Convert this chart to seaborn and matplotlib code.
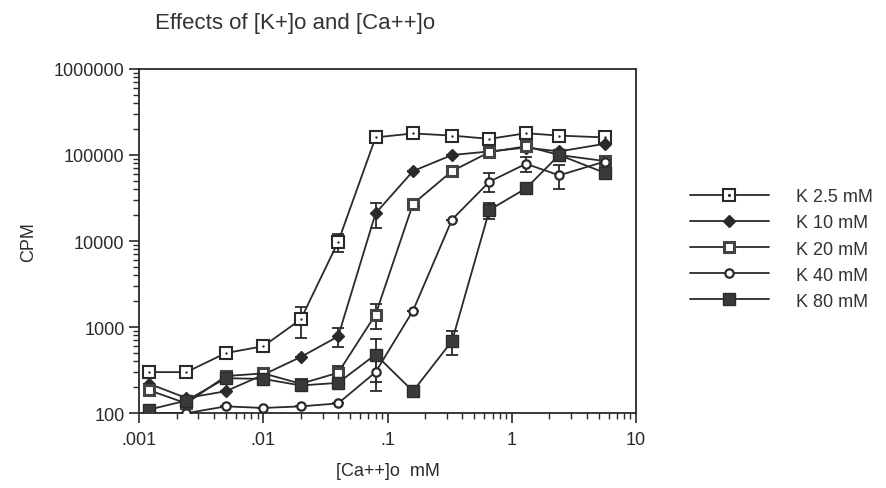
import numpy as np
import pandas as pd
import seaborn as sns
import matplotlib.pyplot as plt
from matplotlib.ticker import FixedLocator, FixedFormatter, LogLocator, NullFormatter
from matplotlib.legend_handler import HandlerTuple

# concentrações de Ca++ (mM)
ca = [0.0012, 0.0024, 0.005, 0.01, 0.02, 0.04, 0.08, 0.16, 0.33, 0.66, 1.3, 2.4, 5.6]

k2_5 = [300, 300, 500, 600, 1230, 9800, 160000, 178000, 168000, 154000, 179000, 168000, 160000]
k10 = [220, 150, 180, 280, 450, 780, 21000, 65000, 100000, 110000, 122000, 110000, 135000]
k20 = [185, 130, 270, 290, 220, 295, 1400, 27000, 65000, 108000, 126000, 100000, 85000]
k40 = [100, 100, 120, 115, 120, 130, 300, 1550, 17800, 49000, 79000, 58000, 84000]
k80 = [110, 140, 255, 250, 210, 225, 480, 180, 690, 23000, 41000, 100000, 62000]

err_k2_5 = [0, 0, 0, 0, 480, 2400, 0, 0, 0, 0, 0, 0, 0]
err_k10 = [0, 0, 0, 0, 0, 200, 7000, 0, 0, 0, 0, 0, 0]
err_k20 = [0, 0, 0, 0, 0, 60, 450, 0, 0, 0, 0, 0, 12000]
err_k40 = [0, 0, 0, 0, 0, 0, 120, 0, 0, 12000, 15000, 18000, 0]
err_k80 = [0, 0, 0, 0, 0, 0, 250, 0, 220, 5000, 0, 0, 0]

labels = ['K 2.5 mM', 'K 10 mM', 'K 20 mM', 'K 40 mM', 'K 80 mM']
series = [k2_5, k10, k20, k40, k80]
errors = [err_k2_5, err_k10, err_k20, err_k40, err_k80]

x_ticks = [0.001, 0.01, 0.1, 1, 10]
x_ticklabels = ['.001', '.01', '.1', '1', '10']
y_ticks = [100, 1000, 10000, 100000, 1000000]
y_ticklabels = ['100', '1000', '10000', '100000', '1000000']

sns.set_style('ticks')
plt.rcParams['font.family'] = ['Liberation Sans', 'DejaVu Sans']

ink = '#2a2a2a'
estilos = [
    dict(marker='s', markersize=8, markerfacecolor='white', markeredgecolor=ink, markeredgewidth=1.5),
    dict(marker='D', markersize=6, markerfacecolor=ink, markeredgecolor=ink, markeredgewidth=1),
    dict(marker='s', markersize=7, markerfacecolor='white', markeredgecolor='#444444', markeredgewidth=2.2),
    dict(marker='o', markersize=6, markerfacecolor='white', markeredgecolor=ink, markeredgewidth=1.6),
    dict(marker='s', markersize=8, markerfacecolor='#3a3a3a', markeredgecolor=ink, markeredgewidth=1),
]

fig = plt.figure(figsize=(8.86, 4.89), dpi=100)
ax = fig.add_axes([0.157, 0.153, 0.561, 0.704])
ax.set_xscale('log')
ax.set_yscale('log')

handles = []
for nome, ys, err, est in zip(labels, series, errors, estilos):
    df = pd.DataFrame({'ca': ca, 'cpm': ys})
    ax.errorbar(ca, ys, yerr=err, fmt='none', ecolor=ink, elinewidth=1.3,
                capsize=4, capthick=1.3, zorder=2)
    sns.lineplot(data=df, x='ca', y='cpm', ax=ax, color=ink, linewidth=1.3,
                 zorder=3, **est)
    h = ax.lines[-1]
    if nome == 'K 2.5 mM':
        sns.scatterplot(data=df, x='ca', y='cpm', ax=ax, color=ink, s=3,
                        linewidth=0, zorder=4)
        dot = ax.plot([], [], ls='none', marker='.', markersize=2.5, color=ink)[0]
        handles.append((h, dot))
    else:
        handles.append(h)

ax.set_xlim(0.001, 10)
ax.set_ylim(100, 1000000)
ax.xaxis.set_major_locator(FixedLocator(x_ticks))
ax.xaxis.set_major_formatter(FixedFormatter(x_ticklabels))
ax.yaxis.set_major_locator(FixedLocator(y_ticks))
ax.yaxis.set_major_formatter(FixedFormatter(y_ticklabels))
ax.xaxis.set_minor_locator(LogLocator(base=10, subs=np.arange(2, 10)))
ax.yaxis.set_minor_locator(LogLocator(base=10, subs=np.arange(2, 10)))
ax.xaxis.set_minor_formatter(NullFormatter())
ax.yaxis.set_minor_formatter(NullFormatter())
ax.tick_params(which='major', direction='out', length=7, width=1.2, labelsize=13, colors=ink)
ax.tick_params(axis='x', which='major', pad=6)
ax.tick_params(which='minor', direction='out', length=4, width=1, colors=ink)
ax.tick_params(top=False, right=False)
for s in ax.spines.values():
    s.set_color(ink)
    s.set_linewidth(1.3)

ax.set_xlabel('[Ca++]o  mM', fontsize=13, color=ink, labelpad=10)
ax.set_ylabel('CPM', fontsize=13, color=ink, labelpad=12)
fig.text(0.175, 0.94, 'Effects of [K+]o and [Ca++]o', fontsize=16, color='#333333')

leg = ax.legend(handles, labels, loc='upper left', bbox_to_anchor=(1.075, 0.70),
                frameon=False, fontsize=13, handlelength=4.4, handletextpad=1.5,
                labelspacing=0.5, handler_map={tuple: HandlerTuple(ndivide=1)})
for t in leg.get_texts():
    t.set_color('#333333')

fig.savefig('out.png', dpi=100)
